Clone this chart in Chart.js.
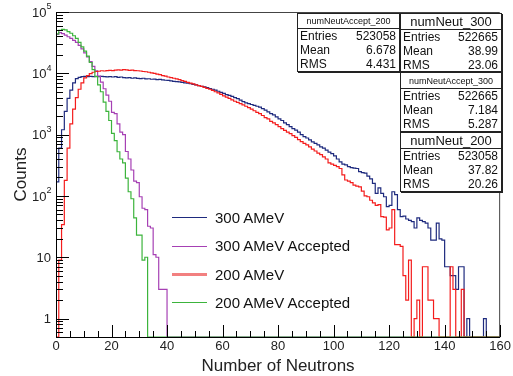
<!DOCTYPE html>
<html>
<head>
<meta charset="utf-8">
<script src="https://cdn.jsdelivr.net/npm/chart.js@4.4.0/dist/chart.umd.min.js"></script>
<style>
  html, body { margin: 0; padding: 0; background: #fff; }
  #wrap { position: relative; width: 513px; height: 376px; font-family: 'Liberation Sans', Arial, sans-serif; color: #111; }
  #chart { position: absolute; left: 0; top: 0; }
  .stat { position: absolute; background: #fff; border: 1px solid #222; box-shadow: 1px 1px 0 #222; box-sizing: border-box; display: flex; flex-direction: column; font-size: 12px; }
  .stat .ttl { text-align: center; border-bottom: 1px solid #222; display: flex; align-items: center; justify-content: center; }
  .stat .row { flex: 1; display: flex; justify-content: space-between; align-items: center; padding: 0 3px 0 2px; }
  .legend { position: absolute; left: 172px; top: 204px; font-size: 15px; }
  .legend .item { position: relative; height: 28.4px; }
  .legend .swatch { position: absolute; left: 0; width: 35px; top: 14px; }
  .legend .txt { position: absolute; left: 43px; top: 5px; white-space: nowrap; }
</style>
</head>
<body>
<div id="wrap">
  <canvas id="chart" width="513" height="376"></canvas>
  <div id="stats"></div>
  <div class="legend" id="legend"></div>
</div>
<script>
// histogram settings
const nBins = 160;
const yMin = 0.5;
const yMax = 1e5;

// counts per 1-neutron bin (bins after the listed ones are empty)
const neut300 = [
  30, 170, 600, 1200, 2400, 3900, 5300, 7000, 8200, 8600,
  8800, 8900, 8800, 8900, 8850, 8900, 8800, 8900, 8800, 8750,
  8800, 8700, 8800, 8600, 8700, 8500, 8450, 8500, 8300, 8400,
  8250, 8200, 8300, 8100, 8150, 8000, 8050, 7900, 7950, 7800,
  7700, 7650, 7500, 7400, 7300, 7250, 7100, 7000, 6900, 6750,
  6600, 6500, 6300, 6150, 6000, 5850, 5650, 5500, 5300, 5100,
  4900, 4700, 4500, 4350, 4200, 4000, 3850, 3650, 3450, 3300,
  3200, 3100, 3000, 2900, 2800, 2650, 2500, 2350, 2200, 2100,
  1950, 1800, 1700, 1550, 1450, 1350, 1250, 1180, 1100, 1000,
  930, 880, 820, 760, 720, 680, 630, 600, 560, 520,
  490, 450, 400, 360, 330, 320, 300, 290, 285, 280,
  250, 240, 235, 210, 190, 160, 110, 135, 110, 97,
  67, 70, 117, 105, 60, 46, 47, 42, 40, 38,
  30, 44, 40, 38, 36, 30, 19, 19, 36, 20,
  19, 7, 7, 5, 5, 3, 7, 7, 0, 1,
  0, 0, 0, 0, 0, 1
];
const neutAccept300 = [
  30000, 43000, 46000, 44500, 42000, 39500, 37000, 34500, 32000, 28500,
  25000, 21500, 18500, 15500, 13000, 11000, 9000, 7200, 5600, 4400,
  3500, 2300, 2200, 1500, 1100, 1000, 530, 400, 265, 175,
  165, 97, 63, 60, 32, 30, 11, 10, 3, 3,
  3
];
const neut200 = [
  0, 0, 9, 34, 180, 600, 1500, 2600, 4000, 5500,
  7000, 8400, 9200, 9900, 10400, 10700, 10800, 11000, 10900, 11100,
  11200, 11100, 11300, 11400, 11300, 11500, 11400, 11200, 11300, 11100,
  11000, 10900, 10700, 10600, 10400, 10200, 10000, 9700, 9500, 9200,
  9000, 8700, 8500, 8300, 8100, 7900, 7600, 7400, 7100, 6900,
  6700, 6500, 6300, 6100, 5900, 5700, 5500, 5250, 5000, 4800,
  4550, 4300, 4100, 3900, 3700, 3500, 3350, 3200, 3050, 2900,
  2750, 2600, 2450, 2300, 2200, 2050, 1900, 1800, 1650, 1550,
  1450, 1350, 1250, 1170, 1100, 1040, 960, 900, 830, 770,
  720, 680, 630, 580, 540, 500, 470, 435, 400, 345,
  330, 315, 300, 280, 220, 182, 175, 165, 150, 145,
  141, 120, 100, 97, 85, 77, 70, 72, 46, 45,
  28, 30, 60, 16, 16, 15, 5, 2, 9, 0,
  1, 2, 0, 7, 7, 2, 2, 1, 1, 0,
  0, 0, 0, 7, 3, 0, 0, 3
];
const neutAccept200 = [
  14000, 44000, 50000, 52000, 51000, 48000, 45000, 41000, 37000, 32000,
  27000, 23000, 19000, 15000, 11500, 8800, 6500, 5000, 3400, 2400,
  1700, 1050, 800, 525, 400, 345, 195, 117, 90, 44,
  23, 23, 9, 10
];

const seriesLabels = ['300 AMeV', '300 AMeV Accepted', '200 AMeV', '200 AMeV Accepted'];
const seriesColors = ['#1e2a7e', '#a640b4', '#f41c1c', '#3cb43c'];
const legendColors = ['#1e2a7e', '#a640b4', '#f28080', '#3cb43c'];
const xTickLabels = [0, 20, 40, 60, 80, 100, 120, 140, 160];
const yTickPowers = [0, 1, 2, 3, 4, 5];

// stat boxes: [name, entries, mean, rms]
const statNames = ['numNeutAccept_200', 'numNeut_300', 'numNeutAccept_300', 'numNeut_200'];
const statEntries = ['523058', '522665', '522665', '523058'];
const statMeans = ['6.678', '38.99', '7.184', '37.82'];
const statRms = ['4.431', '23.06', '5.287', '20.26'];

// turn bin counts into step points; empty bins sit on the axis floor
function histPoints(counts) {
  const pts = [];
  for (let i = 0; i < nBins; i++) {
    const c = counts[i] || 0;
    pts.push({ x: i, y: c > 0 ? c : yMin });
  }
  pts.push({ x: nBins, y: pts[nBins - 1].y });
  return pts;
}

const allSeries = [neut300, neutAccept300, neut200, neutAccept200];
const drawOrder = [3, 2, 1, 0];

const datasets = allSeries.map((counts, i) => ({
  label: seriesLabels[i],
  data: histPoints(counts),
  borderColor: seriesColors[i],
  borderWidth: 1.2,
  stepped: 'after',
  pointRadius: 0,
  fill: false,
  order: drawOrder[i]
}));

// ROOT style axes: inward ticks, frame, superscript labels, titles
const rootAxes = {
  id: 'rootAxes',
  afterDraw(chart) {
    const { ctx, chartArea: a, scales } = chart;
    const x = scales.x, y = scales.y;
    ctx.save();
    ctx.lineWidth = 1;
    ctx.strokeStyle = '#444';
    ctx.beginPath();
    ctx.moveTo(a.left, a.top + 0.5);
    ctx.lineTo(a.right - 0.5, a.top + 0.5);
    ctx.lineTo(a.right - 0.5, a.bottom);
    ctx.stroke();

    ctx.strokeStyle = '#000';
    ctx.beginPath();
    ctx.moveTo(a.left + 0.5, a.top);
    ctx.lineTo(a.left + 0.5, a.bottom + 0.5);
    ctx.lineTo(a.right, a.bottom + 0.5);
    // x ticks every 5, major every 20
    for (let v = 0; v <= 160; v += 5) {
      const px = Math.round(x.getPixelForValue(v)) + 0.5;
      const len = v % 20 === 0 ? 12 : 6;
      ctx.moveTo(px, a.bottom);
      ctx.lineTo(px, a.bottom - len);
    }
    // y ticks on log decades
    for (let p = -1; p <= 5; p++) {
      for (let m = 1; m <= 9; m++) {
        const val = m * Math.pow(10, p);
        if (val < yMin || val > yMax) continue;
        const py = Math.round(y.getPixelForValue(val)) + 0.5;
        const len = m === 1 ? 13 : 7;
        ctx.moveTo(a.left, py);
        ctx.lineTo(a.left + len, py);
      }
    }
    ctx.stroke();

    // y labels
    ctx.fillStyle = '#222';
    ctx.textBaseline = 'middle';
    yTickPowers.forEach(p => {
      const py = y.getPixelForValue(Math.pow(10, p));
      if (p < 2) {
        ctx.font = '13px "Liberation Sans", Arial, sans-serif';
        ctx.textAlign = 'right';
        ctx.fillText(p === 0 ? '1' : '10', 51, py + 1);
      } else {
        ctx.font = '9px "Liberation Sans", Arial, sans-serif';
        ctx.textAlign = 'left';
        ctx.fillText(String(p), 46.5, py - 5);
        ctx.font = '13px "Liberation Sans", Arial, sans-serif';
        ctx.textAlign = 'right';
        ctx.fillText('10', 46.5, py + 1);
      }
    });

    // axis titles
    ctx.fillStyle = '#222';
    ctx.font = '17px "Liberation Sans", Arial, sans-serif';
    ctx.textAlign = 'center';
    ctx.fillText('Number of Neutrons', (a.left + a.right) / 2, 366);
    ctx.translate(21, (a.top + a.bottom) / 2);
    ctx.rotate(-Math.PI / 2);
    ctx.fillText('Counts', 0, 0);
    ctx.restore();
  }
};

const ctx = document.getElementById('chart').getContext('2d');
new Chart(ctx, {
  type: 'line',
  data: { datasets: datasets },
  options: {
    responsive: false,
    animation: false,
    layout: { padding: { top: 12, right: 12, left: 0, bottom: 0 } },
    plugins: { legend: { display: false }, tooltip: { enabled: false } },
    scales: {
      x: {
        type: 'linear',
        min: 0,
        max: 160,
        grid: { display: false, drawTicks: false },
        border: { display: false },
        ticks: {
          stepSize: 20,
          maxRotation: 0,
          padding: 2,
          color: '#222',
          font: { family: '"Liberation Sans", Arial, sans-serif', size: 13 },
          callback: v => (xTickLabels.includes(v) ? String(v) : '')
        },
        afterFit: s => { s.height = 39; }
      },
      y: {
        type: 'logarithmic',
        min: yMin,
        max: yMax,
        grid: { display: false, drawTicks: false },
        border: { display: false },
        ticks: { display: false },
        afterFit: s => { s.width = 56; }
      }
    }
  },
  plugins: [rootAxes]
});

// stat boxes
const statBoxes = [
  { left: 297, top: 13, w: 103, h: 59, th: 14, fs: 9 },
  { left: 400, top: 13, w: 102, h: 59, th: 15, fs: 13 },
  { left: 400, top: 72, w: 102, h: 60, th: 15, fs: 9 },
  { left: 400, top: 132, w: 102, h: 60, th: 16, fs: 13 }
];
const statsDiv = document.getElementById('stats');
statBoxes.forEach((b, i) => {
  const box = document.createElement('div');
  box.className = 'stat';
  box.style.cssText = `left:${b.left}px;top:${b.top}px;width:${b.w}px;height:${b.h}px;`;
  box.innerHTML =
    `<div class="ttl" style="height:${b.th}px;font-size:${b.fs}px">${statNames[i]}</div>` +
    `<div class="row"><span>Entries</span><span>${statEntries[i]}</span></div>` +
    `<div class="row"><span>Mean</span><span>${statMeans[i]}</span></div>` +
    `<div class="row"><span>RMS</span><span>${statRms[i]}</span></div>`;
  statsDiv.appendChild(box);
});

// legend
const legendDiv = document.getElementById('legend');
seriesLabels.forEach((label, i) => {
  const item = document.createElement('div');
  item.className = 'item';
  const lw = i === 2 ? 3 : 1.5;
  item.innerHTML =
    `<div class="swatch" style="border-top:${lw}px solid ${legendColors[i]};margin-top:${-lw / 2}px"></div>` +
    `<div class="txt">${label}</div>`;
  legendDiv.appendChild(item);
});
</script>
</body>
</html>
